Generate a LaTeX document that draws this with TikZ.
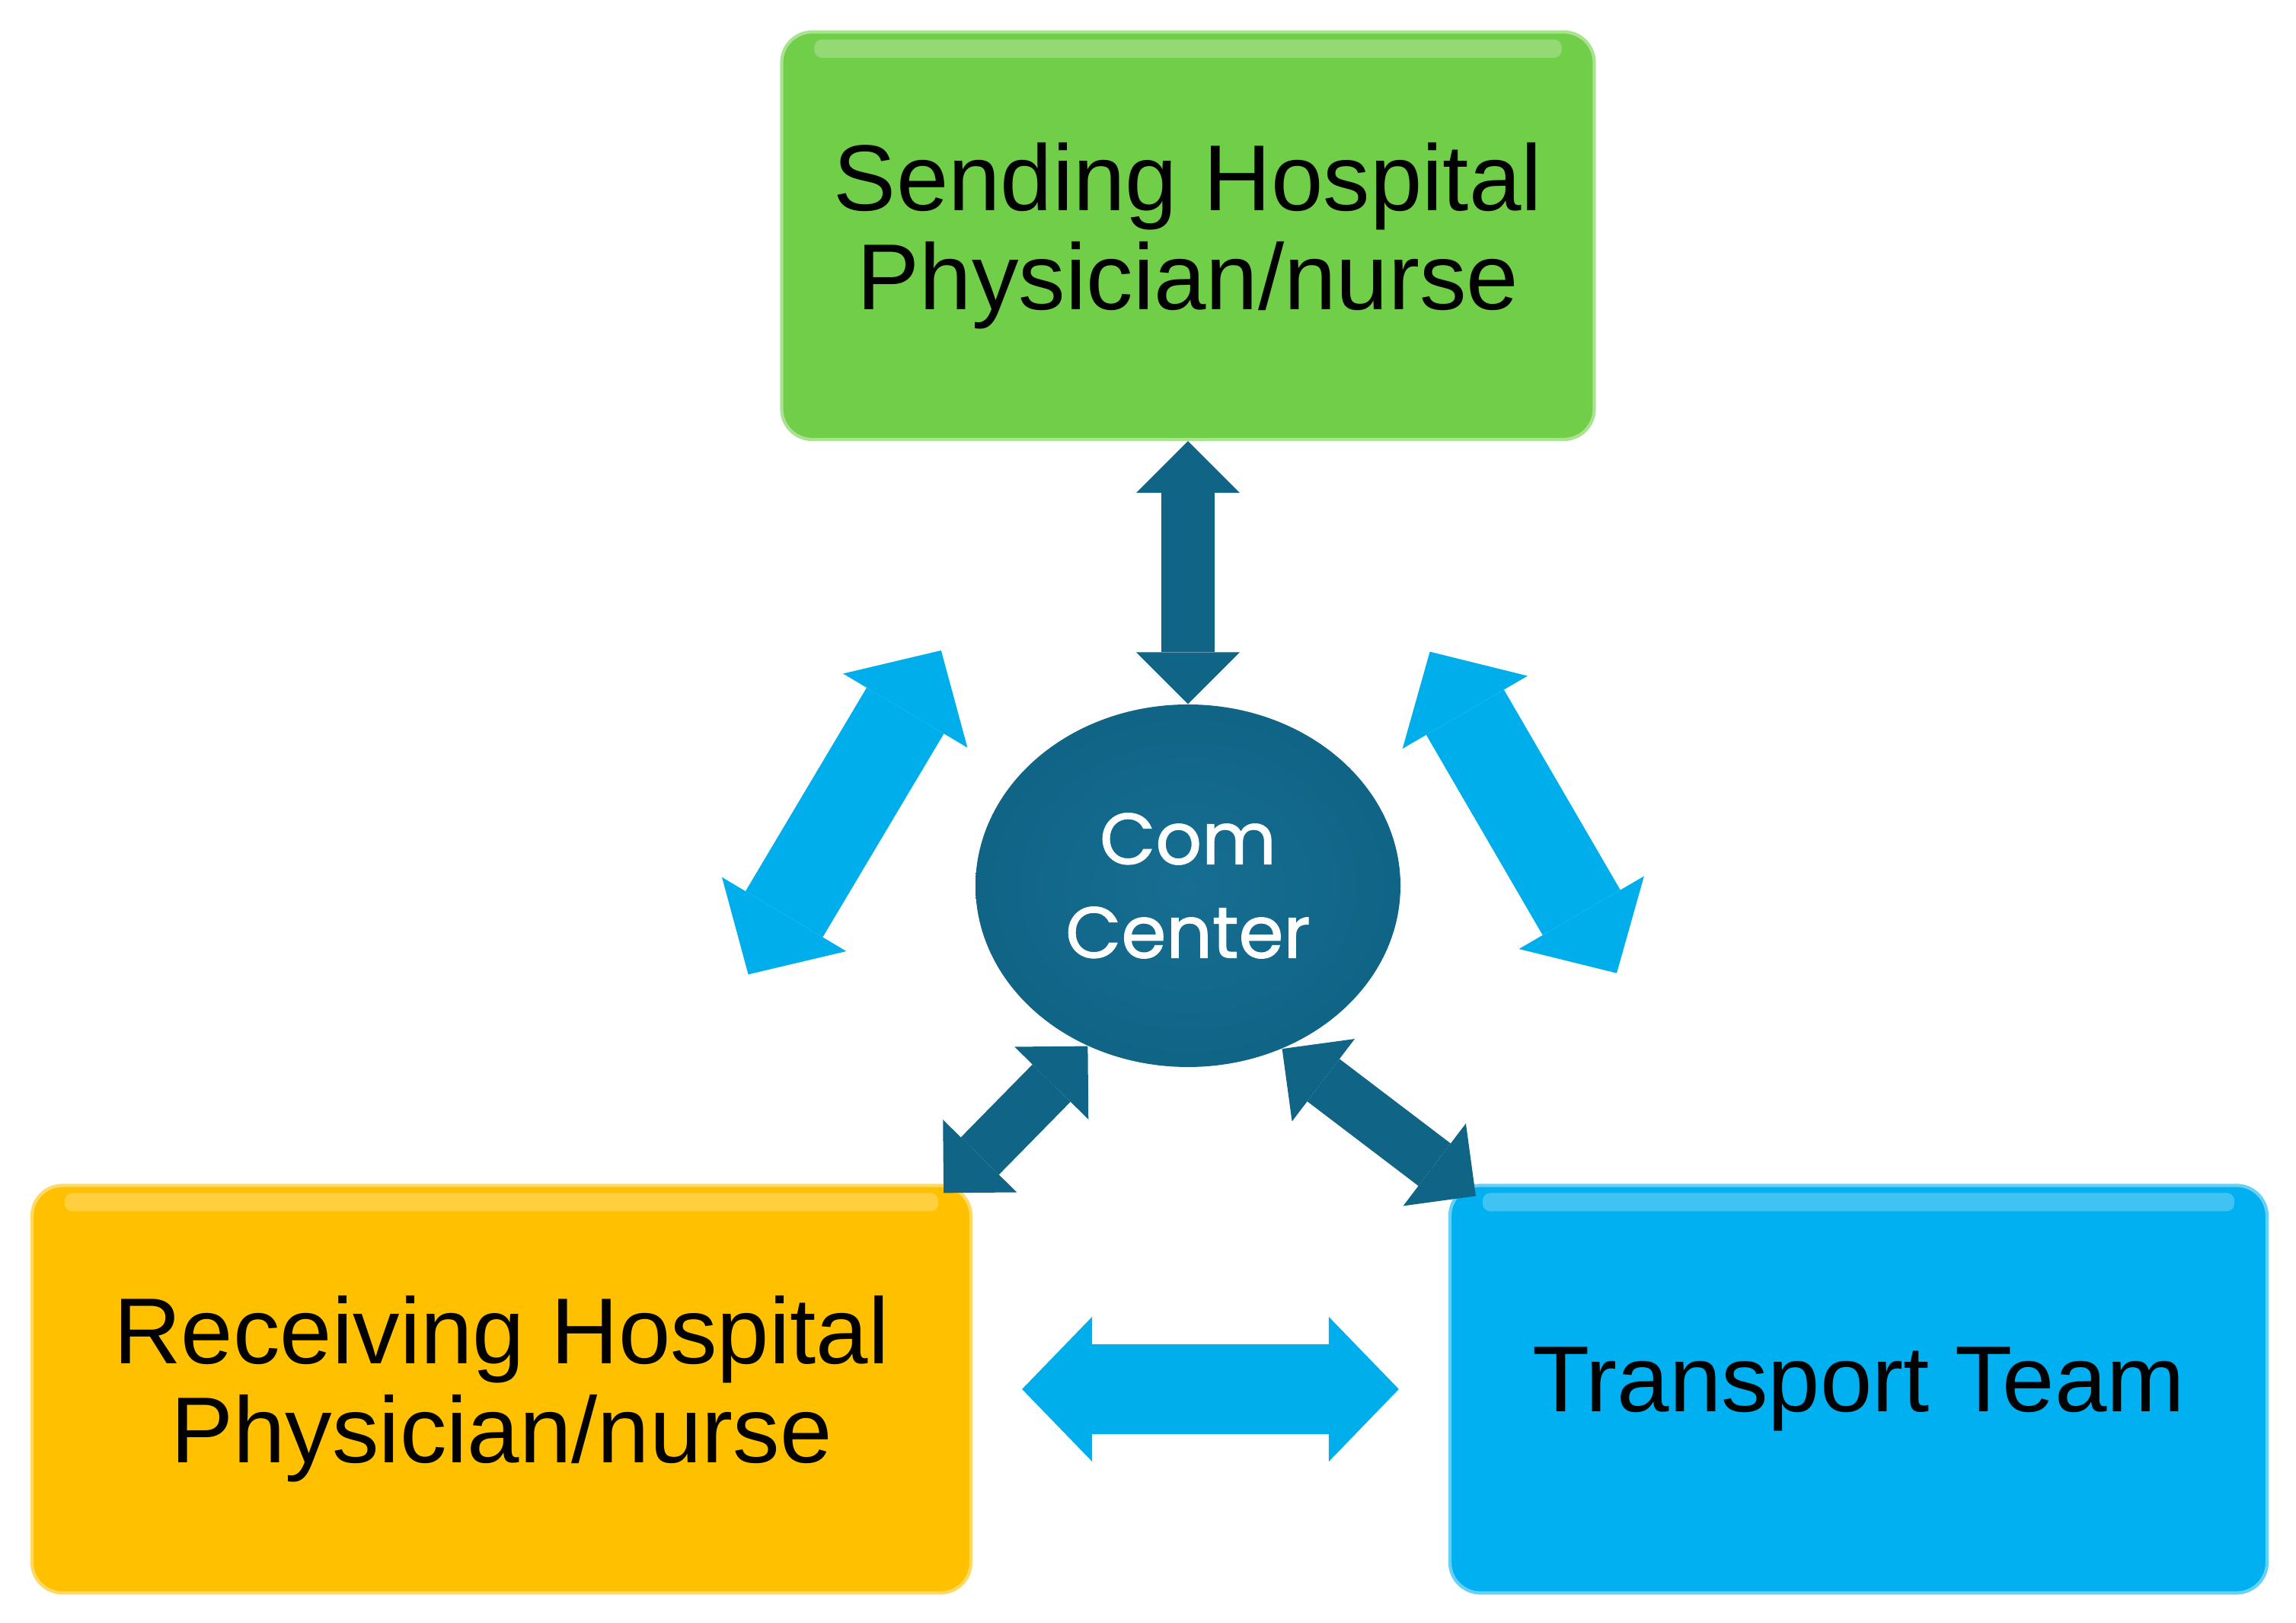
\documentclass[tikz,border=0pt]{standalone}
\usepackage{fontspec}
\setmainfont{Liberation Sans}
\newfontfamily\comfont[FakeBold=1.2]{Poppins}
\usepackage{xcolor}
\usepackage{tikz}
\usetikzlibrary{arrows.meta,shapes.geometric}
\definecolor{sendgreen}{RGB}{112,206,72}
\definecolor{recvyellow}{RGB}{255,192,0}
\definecolor{teamblue}{RGB}{0,176,240}
\definecolor{comteal}{RGB}{16,100,134}
\definecolor{comlight}{RGB}{22,110,146}
\definecolor{arrowblue}{RGB}{0,174,236}

\begin{document}
\begin{tikzpicture}[x=1cm,y=1cm,
    box/.style={rectangle, rounded corners=0.4cm, minimum height=5.35cm,
      align=center, text=black, line width=1.2pt,
      font=\fontsize{35}{37}\selectfont},
    darkarrow/.style={draw=comteal, line width=0.7cm,
      {Triangle[length=0.68cm,width=1.36cm,line width=0pt]}-{Triangle[length=0.68cm,width=1.36cm,line width=0pt]}},
    lightarrow/.style={draw=arrowblue, line width=1.18cm,
      {Triangle[length=0.92cm,width=1.9cm,line width=0pt]}-{Triangle[length=0.92cm,width=1.9cm,line width=0pt]}}]
  \useasboundingbox (0,0) rectangle (30.15,21.31);

  % sending hospital
  \node[box, fill=sendgreen, draw=sendgreen!60!white, minimum width=10.67cm] (sh) at (15.6,18.215)
    {Sending Hospital\\Physician/nurse};

  % receiving hospital
  \node[box, fill=recvyellow, draw=recvyellow!60!white, minimum width=12.33cm] (rh) at (6.585,3.07)
    {Receiving Hospital\\Physician/nurse};

  % transport team
  \node[box, fill=teamblue, draw=teamblue!60!white, minimum width=10.73cm] (tt) at (24.405,3.07)
    {Transport Team};

  % gloss on the boxes
  \foreach \b in {sh,rh,tt}
    \fill[white, opacity=0.25, rounded corners=0.1cm]
      ([shift={(0.45,-0.12)}]\b.north west) rectangle ([shift={(-0.45,-0.36)}]\b.north east);

  % com center
  \node[ellipse, minimum width=5.58cm, minimum height=4.76cm, inner sep=0pt,
    inner color=comlight, outer color=comteal, text=white, align=center,
    font=\comfont\fontsize{27}{35}\selectfont] (com) at (15.6,9.68) {Com\\Center};

  % links to com center
  \draw[darkarrow] (sh) -- (com);
  \draw[darkarrow] (com.238) -- ([shift={(-0.38,-0.12)}]rh.north east);
  \draw[darkarrow] (com.300) -- ([shift={(0.36,-0.16)}]tt.north west);

  % links between parties
  \draw[lightarrow, shorten <=3.2cm, shorten >=3.2cm] (sh) -- (rh);
  \draw[lightarrow, shorten <=3.2cm, shorten >=3.2cm] (sh) -- (tt);
  \draw[lightarrow, shorten <=0.65cm, shorten >=0.65cm] (rh) -- (tt);
\end{tikzpicture}
\end{document}
